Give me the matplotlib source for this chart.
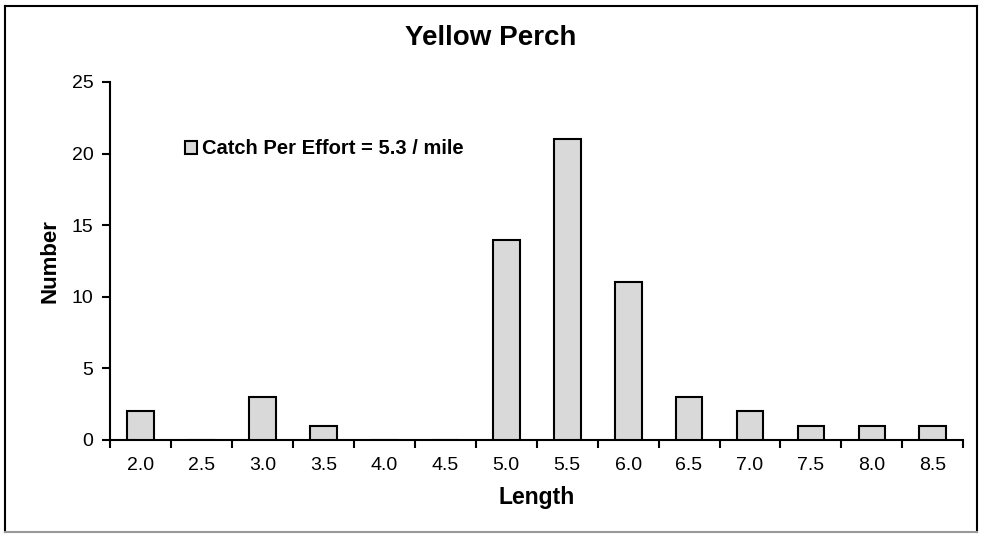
import numpy as np
import matplotlib
matplotlib.use("Agg")
import matplotlib.pyplot as plt
from matplotlib.lines import Line2D

lengths = ["2.0", "2.5", "3.0", "3.5", "4.0", "4.5", "5.0", "5.5",
           "6.0", "6.5", "7.0", "7.5", "8.0", "8.5"]
counts = [2, 0, 3, 1, 0, 0, 14, 21, 11, 3, 2, 1, 1, 1]
legend_label = "Catch Per Effort = 5.3 / mile"

plt.rcParams["font.family"] = ["Liberation Sans", "DejaVu Sans"]

fig = plt.figure(figsize=(9.82, 5.38), dpi=100)
ax = fig.add_axes([0.112, 0.1822, 0.869, 0.6654])

x = np.arange(len(lengths))
ax.bar(x, counts, width=0.44, color="#d9d9d9", edgecolor="black",
       linewidth=1.5, label=legend_label, zorder=3)

ax.set_xlim(-0.5, len(lengths) - 0.5)
ax.set_ylim(0, 25)
ax.set_yticks(range(0, 26, 5))
ax.set_xticks(x)
ax.set_xticklabels(lengths)
ax.set_xticks(np.arange(-0.5, len(lengths), 1), minor=True)
ax.tick_params(axis="x", which="major", length=0, pad=12, labelsize=14)
ax.tick_params(axis="x", which="minor", length=6, width=1.5, direction="out")
ax.tick_params(axis="y", length=6, width=1.5, direction="out", labelsize=14,
               pad=6)

for side in ["top", "right"]:
    ax.spines[side].set_visible(False)
for side in ["left", "bottom"]:
    ax.spines[side].set_linewidth(1.5)

ax.set_xlabel("Length", fontsize=16.5, fontweight="bold", labelpad=9)
ax.set_ylabel("Number", fontsize=16, fontweight="bold", labelpad=8)
fig.text(0.5, 0.929, "Yellow Perch", ha="center", va="center",
         fontsize=20, fontweight="bold")

ax.legend(loc="upper left", bbox_to_anchor=(0.088, 0.84), frameon=False,
          prop={"weight": "bold", "size": 14.5}, handlelength=0.6,
          handleheight=0.6, handletextpad=0.25, borderaxespad=0, borderpad=0)

# outer chart frame
fig.add_artist(Line2D([0.005, 0.005], [0.011, 0.989], transform=fig.transFigure,
                      color="black", lw=1.5))
fig.add_artist(Line2D([0.005, 0.995], [0.989, 0.989], transform=fig.transFigure,
                      color="black", lw=1.5))
fig.add_artist(Line2D([0.995, 0.995], [0.011, 0.989], transform=fig.transFigure,
                      color="black", lw=1.5))
fig.add_artist(Line2D([0.005, 0.995], [0.011, 0.011], transform=fig.transFigure,
                      color="#999999", lw=1.5))

fig.savefig("out.png", dpi=100)
